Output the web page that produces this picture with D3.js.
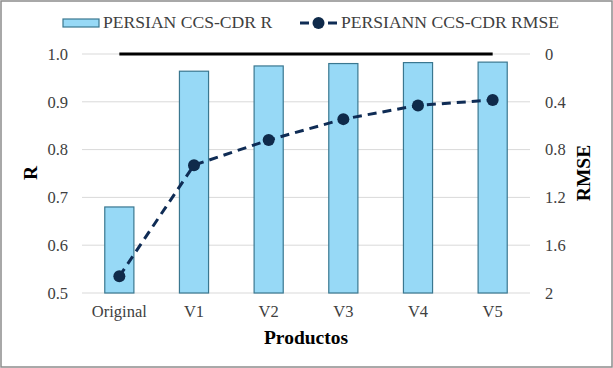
<!DOCTYPE html>
<html>
<head>
<meta charset="utf-8">
<script src="https://cdn.jsdelivr.net/npm/d3@7"></script>
<style>
  body { margin: 0; background: #fff; }
  svg text { font-family: "Liberation Serif", "Times New Roman", serif; fill: #404040; }
</style>
</head>
<body>
<div id="chart-area"><svg></svg></div>
<script>
const productos = ["Original", "V1", "V2", "V3", "V4", "V5"];
const rValues = [0.68, 0.964, 0.975, 0.98, 0.982, 0.983];
const rmseValues = [1.86, 0.93, 0.72, 0.545, 0.43, 0.385];
const zeroLine = [0, 0, 0, 0, 0, 0];
const rTicks = [0.5, 0.6, 0.7, 0.8, 0.9, 1.0];
const rmseTicks = [0, 0.4, 0.8, 1.2, 1.6, 2];

const chartSize = { width: 613, height: 368 };
const margin = { left: 82, right: 83, top: 54, bottom: 75 };
const width = chartSize.width - (margin.left + margin.right);
const height = chartSize.height - (margin.top + margin.bottom);
const serif = '"Liberation Serif", "Times New Roman", serif';

const svg = d3.select("#chart-area svg")
  .attr("width", chartSize.width)
  .attr("height", chartSize.height);

svg.append("rect")
  .attr("x", 1).attr("y", 1)
  .attr("width", chartSize.width - 2).attr("height", chartSize.height - 2)
  .attr("fill", "#fff").attr("stroke", "#8c8c8c").attr("stroke-width", 1.5);

const g = svg.append("g").attr("transform", `translate(${margin.left}, ${margin.top})`);

const xScale = d3.scaleBand().domain(productos).range([0, width])
  .paddingInner(0.61).paddingOuter(0.305);
const xPoint = d => xScale(d) + xScale.bandwidth() / 2;
const yLeft = d3.scaleLinear().domain([0.5, 1.0]).range([height, 0]);
const yRight = d3.scaleLinear().domain([0, 2]).range([0, height]);

// grid
g.selectAll(".grid").data(rTicks).enter().append("line")
  .attr("x1", 0).attr("x2", width)
  .attr("y1", d => yLeft(d)).attr("y2", d => yLeft(d))
  .attr("stroke", "#d9d9d9").attr("stroke-width", 1);

// axes
const styleAxis = axis => {
  axis.attr("font-family", serif);
  axis.select(".domain").remove();
  axis.selectAll("text").style("font-size", "16.5px").attr("fill", "#404040");
};

g.append("g")
  .call(d3.axisLeft(yLeft).tickValues(rTicks).tickFormat(d3.format(".1f")).tickSize(0).tickPadding(14))
  .call(styleAxis);

g.append("g")
  .attr("transform", `translate(${width}, 0)`)
  .call(d3.axisRight(yRight).tickValues(rmseTicks).tickFormat(d => d).tickSize(0).tickPadding(15))
  .call(styleAxis);

g.append("g")
  .attr("transform", `translate(0, ${height})`)
  .call(d3.axisBottom(xScale).tickSize(0).tickPadding(12))
  .call(styleAxis);

// bars
g.selectAll(".bar").data(productos).enter().append("rect")
  .attr("x", d => xScale(d))
  .attr("y", (d, i) => yLeft(rValues[i]))
  .attr("width", xScale.bandwidth())
  .attr("height", (d, i) => yLeft(0.5) - yLeft(rValues[i]))
  .attr("fill", "#97d9f6").attr("stroke", "#3a7790").attr("stroke-width", 1.2);

// black reference line
g.append("path")
  .datum(zeroLine)
  .attr("d", d3.line().x((d, i) => xPoint(productos[i])).y(d => yRight(d)))
  .attr("fill", "none").attr("stroke", "#000").attr("stroke-width", 3);

// RMSE line
g.append("path")
  .datum(rmseValues)
  .attr("d", d3.line().x((d, i) => xPoint(productos[i])).y(d => yRight(d)))
  .attr("fill", "none").attr("stroke", "#0f2c55").attr("stroke-width", 3)
  .attr("stroke-dasharray", "9,6");

g.selectAll(".dot").data(rmseValues).enter().append("circle")
  .attr("cx", (d, i) => xPoint(productos[i]))
  .attr("cy", d => yRight(d))
  .attr("r", 6).attr("fill", "#0f2a4a");

// axis labels
const axisLabel = (x, y, rot, txt) => svg.append("text")
  .attr("transform", `translate(${x}, ${y}) rotate(${rot})`)
  .attr("text-anchor", "middle")
  .style("font-size", "19.5px").style("font-weight", "bold").style("fill", "#000")
  .text(txt);
axisLabel(37, 173, -90, "R");
axisLabel(590, 173, -90, "RMSE");
axisLabel(306, 344, 0, "Productos");

// legend
const legend = svg.append("g");
legend.append("rect").attr("x", 63).attr("y", 19).attr("width", 36).attr("height", 8)
  .attr("fill", "#97d9f6").attr("stroke", "#3a7790").attr("stroke-width", 1.2);
legend.append("text").attr("x", 103).attr("y", 28).style("font-size", "17.6px")
  .text("PERSIAN CCS-CDR R");
legend.append("line").attr("x1", 300).attr("x2", 337).attr("y1", 23).attr("y2", 23)
  .attr("stroke", "#0f2c55").attr("stroke-width", 3).attr("stroke-dasharray", "9,5");
legend.append("circle").attr("cx", 318.5).attr("cy", 23).attr("r", 6).attr("fill", "#0f2a4a");
legend.append("text").attr("x", 341).attr("y", 28).style("font-size", "17.6px")
  .text("PERSIANN CCS-CDR RMSE");
</script>
</body>
</html>
